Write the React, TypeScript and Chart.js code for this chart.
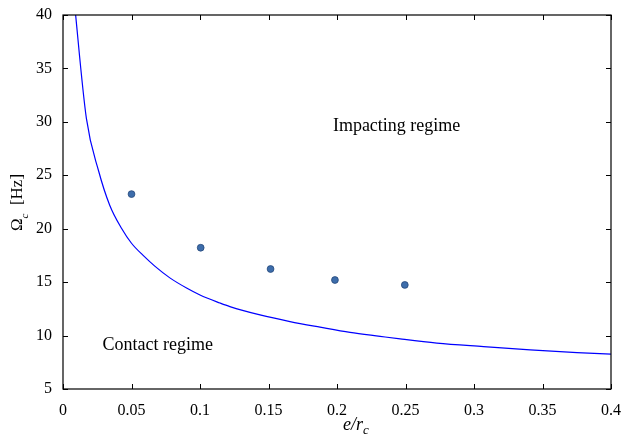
import React, { useEffect, useRef } from "react";
import { Chart, registerables } from "chart.js";

Chart.register(...registerables);

// Boundary curve (Omega_c vs e/r_c)
const curveX = [0.0079, 0.0171, 0.026, 0.0341, 0.0427, 0.05, 0.0585, 0.067, 0.078, 0.0902, 0.1, 0.1145, 0.1218, 0.1438, 0.1657, 0.1876, 0.2095, 0.2315, 0.2461, 0.2729, 0.3069, 0.341, 0.3752, 0.4];
const curveY = [41.7, 30.3, 25.4, 22.2, 20.04, 18.64, 17.5, 16.5, 15.4, 14.45, 13.8, 13.05, 12.71, 11.93, 11.31, 10.79, 10.3, 9.93, 9.69, 9.3, 8.97, 8.66, 8.41, 8.27];

// Measured points
const pointsX = [0.05, 0.1005, 0.1515, 0.1985, 0.2495];
const pointsY = [23.24, 18.22, 16.23, 15.2, 14.74];

const xTicks = [0, 0.05, 0.1, 0.15, 0.2, 0.25, 0.3, 0.35, 0.4];
const xTickLabels = ["0", "0.05", "0.1", "0.15", "0.2", "0.25", "0.3", "0.35", "0.4"];
const yTicks = [5, 10, 15, 20, 25, 30, 35, 40];
const yTickLabels = ["5", "10", "15", "20", "25", "30", "35", "40"];

const annotations = [
  { text: "Impacting regime", x: 0.197, y: 29.55 },
  { text: "Contact regime", x: 0.0288, y: 9.13 },
];

const SERIF = "'Liberation Serif', 'DejaVu Serif', serif";

export default function App() {
  const ref = useRef<HTMLCanvasElement | null>(null);

  useEffect(() => {
    if (!ref.current) return;
    const framePlugin = {
      id: "frame",
      afterDraw(chart: any) {
        const ctx = chart.ctx;
        const a = chart.chartArea;
        const xs = chart.scales.x;
        const ys = chart.scales.y;
        ctx.save();
        ctx.strokeStyle = "#000";
        ctx.lineWidth = 1.2;
        ctx.strokeRect(a.left, a.top, a.right - a.left, a.bottom - a.top);
        ctx.lineWidth = 1;
        const tl = 5;
        ctx.beginPath();
        xTicks.forEach((v) => {
          const px = Math.round(xs.getPixelForValue(v)) + 0.5;
          ctx.moveTo(px, a.bottom);
          ctx.lineTo(px, a.bottom - tl);
          ctx.moveTo(px, a.top);
          ctx.lineTo(px, a.top + tl);
        });
        yTicks.forEach((v) => {
          const py = Math.round(ys.getPixelForValue(v)) + 0.5;
          ctx.moveTo(a.left, py);
          ctx.lineTo(a.left + tl, py);
          ctx.moveTo(a.right, py);
          ctx.lineTo(a.right - tl, py);
        });
        ctx.stroke();

        // annotations
        ctx.fillStyle = "#000";
        ctx.font = `18px ${SERIF}`;
        ctx.textBaseline = "middle";
        ctx.textAlign = "left";
        annotations.forEach((t) => {
          ctx.fillText(t.text, xs.getPixelForValue(t.x), ys.getPixelForValue(t.y));
        });

        // x title: e/r_c
        ctx.textBaseline = "alphabetic";
        ctx.font = `italic 18px ${SERIF}`;
        const xMain = "e/r";
        const xw = ctx.measureText(xMain).width;
        ctx.font = `italic 13px ${SERIF}`;
        const xsw = ctx.measureText("c").width;
        const sx = 356 - (xw + xsw) / 2;
        ctx.font = `italic 18px ${SERIF}`;
        ctx.fillText(xMain, sx, 430);
        ctx.font = `italic 13px ${SERIF}`;
        ctx.fillText("c", sx + xw, 434);

        // y title: Ω_c  [Hz]
        ctx.save();
        ctx.translate(22, 202.5);
        ctx.rotate(-Math.PI / 2);
        ctx.font = `17px ${SERIF}`;
        const w1 = ctx.measureText("Ω").width;
        const w3 = ctx.measureText("  [Hz]").width;
        ctx.font = `italic 11px ${SERIF}`;
        const w2 = ctx.measureText("c").width;
        const st = -(w1 + w2 + w3) / 2;
        ctx.font = `17px ${SERIF}`;
        ctx.fillText("Ω", st, 0);
        ctx.font = `italic 11px ${SERIF}`;
        ctx.fillText("c", st + w1, 6);
        ctx.font = `17px ${SERIF}`;
        ctx.fillText("  [Hz]", st + w1 + w2, 0);
        ctx.restore();

        ctx.restore();
      },
    };

    const chart = new Chart(ref.current, {
      type: "scatter",
      data: {
        datasets: [
          {
            label: "boundary",
            data: curveX.map((x, i) => ({ x, y: curveY[i] })),
            showLine: true,
            borderColor: "#0000ff",
            borderWidth: 1.2,
            pointRadius: 0,
            cubicInterpolationMode: "monotone",
            clip: 0,
          } as any,
          {
            label: "points",
            data: pointsX.map((x, i) => ({ x, y: pointsY[i] })),
            backgroundColor: "#3d6dab",
            borderColor: "#25487a",
            borderWidth: 0.8,
            pointRadius: 3.4,
            showLine: false,
          },
        ],
      },
      options: {
        responsive: false,
        animation: false,
        layout: { padding: { top: 15, right: 10, left: 0, bottom: 0 } },
        plugins: { legend: { display: false }, tooltip: { enabled: false } },
        scales: {
          x: {
            type: "linear",
            min: 0,
            max: 0.4,
            grid: { display: false },
            border: { display: false },
            afterBuildTicks: (s: any) => {
              s.ticks = xTicks.map((v) => ({ value: v }));
            },
            afterFit: (s: any) => {
              s.height = 48;
              s.paddingLeft = 0;
              s.paddingRight = 0;
            },
            ticks: {
              color: "#000",
              font: { family: SERIF, size: 16 },
              padding: 4,
              maxRotation: 0,
              autoSkip: false,
              callback: (v: any) => {
                const i = xTicks.findIndex((t) => Math.abs(t - v) < 1e-9);
                return i >= 0 ? xTickLabels[i] : "";
              },
            },
          },
          y: {
            type: "linear",
            min: 5,
            max: 40,
            grid: { display: false },
            border: { display: false },
            afterBuildTicks: (s: any) => {
              s.ticks = yTicks.map((v) => ({ value: v }));
            },
            afterFit: (s: any) => {
              s.width = 63;
              s.paddingTop = 0;
              s.paddingBottom = 0;
            },
            ticks: {
              color: "#000",
              font: { family: SERIF, size: 16 },
              padding: 3,
              autoSkip: false,
              callback: (v: any) => {
                const i = yTicks.findIndex((t) => Math.abs(t - v) < 1e-9);
                return i >= 0 ? yTickLabels[i] : "";
              },
            },
          },
        },
      },
      plugins: [framePlugin],
    } as any);
    return () => chart.destroy();
  }, []);

  return (
    <div style={{ position: "absolute", left: 0, top: 0, width: 621, height: 437, background: "#fff" }}>
      <canvas ref={ref} width={621} height={437} style={{ display: "block", width: 621, height: 437 }} />
    </div>
  );
}
